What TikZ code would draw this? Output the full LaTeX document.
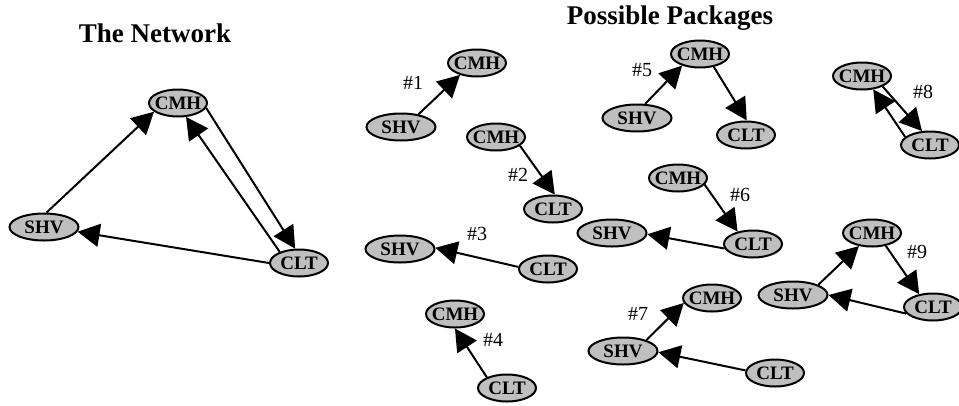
\documentclass[tikz,border=0pt]{standalone}
\usepackage{fontspec}
\setmainfont{Liberation Serif}
\usepackage{tikz}
\usetikzlibrary{shapes, arrows.meta}
\tikzstyle{city} = [ellipse, minimum width=58pt, minimum height=27pt, inner sep=0pt, inner xsep=-5pt, text centered, draw=black, line width=2pt, fill=gray!50, font=\fontsize{19}{19}\selectfont\bfseries]
\tikzstyle{wcity} = [city, minimum width=69pt]
\tikzstyle{num} = [font=\fontsize{20}{20}\selectfont]
\tikzstyle{title} = [font=\fontsize{27}{27}\selectfont\bfseries]
\tikzstyle{arrow} = [-{Triangle[length=22pt, width=23pt]}, line width=2pt]

\begin{document}
\begin{tikzpicture}[x=1pt, y=-1pt]

    \useasboundingbox (0, 0) rectangle (959, 405);

    % the network
    \node (tnet) [title] at (155, 33) {The Network};
    \node (cmh0) [city] at (178, 103) {CMH};
    \node (shv0) [wcity] at (44, 227) {SHV};
    \node (clt0) [city] at (299, 263) {CLT};

    \draw [arrow] (shv0.80) -- (cmh0.200);
    \draw [arrow] (cmh0.-10) -- (clt0.105);
    \draw [arrow] (clt0.150) -- (cmh0.-60);
    \draw [arrow] (clt0.180) -- (shv0.-8);

    % possible packages
    \node (tpack) [title] at (670, 18) {Possible Packages};

    \node (cmh1) [city] at (477, 63) {CMH};
    \node (shv1) [wcity] at (401, 127) {SHV};
    \node (n1) [num] at (413, 83) {\#1};
    \draw [arrow] (shv1.36) -- (cmh1.215);

    \node (cmh2) [city] at (496, 137) {CMH};
    \node (clt2) [city] at (553, 209) {CLT};
    \node (n2) [num] at (518, 175) {\#2};
    \draw [arrow] (cmh2.-20) -- (clt2.83);

    \node (shv3) [wcity] at (400, 249) {SHV};
    \node (clt3) [city] at (548, 269) {CLT};
    \node (n3) [num] at (477, 234) {\#3};
    \draw [arrow] (clt3.176) -- (shv3.2);

    \node (cmh4) [city] at (455, 314) {CMH};
    \node (clt4) [city] at (507, 388) {CLT};
    \node (n4) [num] at (493, 340) {\#4};
    \draw [arrow] (clt4.152) -- (cmh4.-90);

    \node (cmh5) [city] at (700, 54) {CMH};
    \node (shv5) [wcity] at (637, 118) {SHV};
    \node (clt5) [city] at (746, 135) {CLT};
    \node (n5) [num] at (642, 70) {\#5};
    \draw [arrow] (shv5.60) -- (cmh5.213);
    \draw [arrow] (cmh5.-43) -- (clt5.87);

    \node (cmh6) [city] at (678, 178) {CMH};
    \node (shv6) [wcity] at (612, 233) {SHV};
    \node (clt6) [city] at (753, 244) {CLT};
    \node (n6) [num] at (740, 195) {\#6};
    \draw [arrow] (cmh6.-14) -- (clt6.141);
    \draw [arrow] (clt6.189) -- (shv6.-2);

    \node (cmh7) [city] at (712, 298) {CMH};
    \node (shv7) [wcity] at (623, 351) {SHV};
    \node (clt7) [city] at (775, 373) {CLT};
    \node (n7) [num] at (638, 314) {\#7};
    \draw [arrow] (shv7.25) -- (cmh7.190);
    \draw [arrow] (clt7.175) -- (shv7.-2);

    \node (cmh8) [city] at (862, 76) {CMH};
    \node (clt8) [city] at (930, 145) {CLT};
    \node (n8) [num] at (923, 92) {\#8};
    \draw [arrow] (cmh8.-27) -- (clt8.120);
    \draw [arrow] (clt8.162) -- (cmh8.-50);

    \node (cmh9) [city] at (872, 233) {CMH};
    \node (shv9) [wcity] at (793, 295) {SHV};
    \node (clt9) [city] at (933, 307) {CLT};
    \node (n9) [num] at (917, 252) {\#9};
    \draw [arrow] (shv9.22) -- (cmh9.225);
    \draw [arrow] (cmh9.-43) -- (clt9.137);
    \draw [arrow] (clt9.194) -- (shv9.0);

\end{tikzpicture}
\end{document}
